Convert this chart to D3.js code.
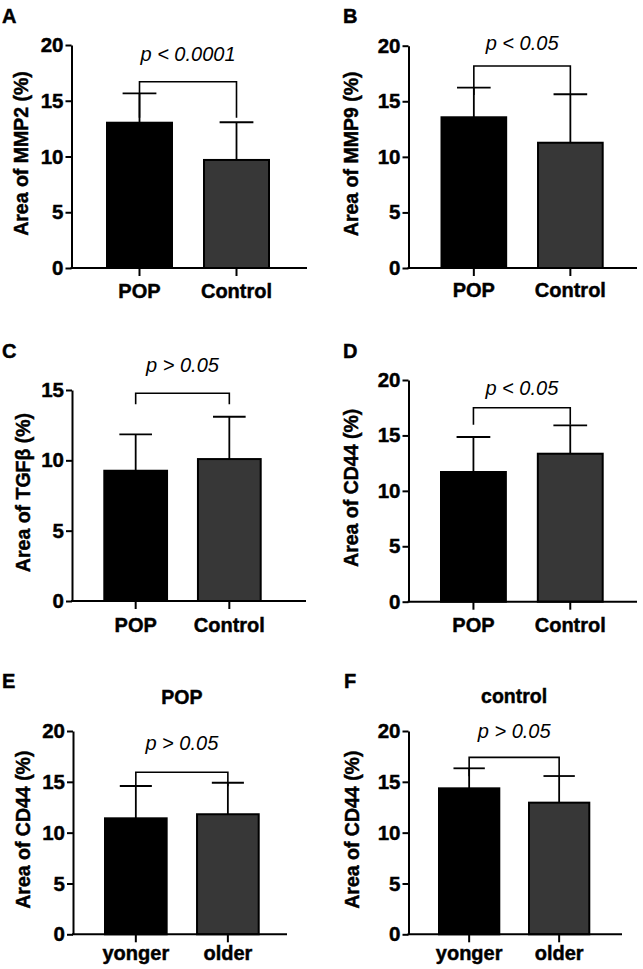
<!DOCTYPE html>
<html>
<head>
<meta charset="utf-8">
<script src="https://cdn.jsdelivr.net/npm/d3@7"></script>
<style>
  html, body { margin: 0; padding: 0; background: #fff; }
  svg { display: block; }
  text { font-family: "Liberation Sans", Arial, Helvetica, sans-serif; fill: #000; }
</style>
</head>
<body>
<svg id="chart" width="643" height="969"></svg>
<script>
// ---------------- DATA ----------------
const panelLetters = ["A", "B", "C", "D", "E", "F"];
const categoriesGroup = ["POP", "Control"];
const categoriesAge = ["yonger", "older"];
const panelCategories = [categoriesGroup, categoriesGroup, categoriesGroup, categoriesGroup, categoriesAge, categoriesAge];
const yTitles = ["Area of MMP2 (%)", "Area of MMP9 (%)", "Area of TGFβ (%)", "Area of CD44 (%)", "Area of CD44 (%)", "Area of CD44 (%)"];
const panelTitles = ["", "", "", "", "POP", "control"];
const meanValues = [
  [13.03, 9.69],
  [13.56, 11.27],
  [9.26, 10.09],
  [11.70, 13.35],
  [11.41, 11.81],
  [14.36, 12.95]
];
const errorValues = [
  [2.64, 3.38],
  [2.66, 4.36],
  [2.59, 3.01],
  [3.16, 2.56],
  [3.18, 3.10],
  [1.97, 2.62]
];
const yMaxValues = [20, 20, 15, 20, 20, 20];
const yTickValues = [
  [0, 5, 10, 15, 20],
  [0, 5, 10, 15, 20],
  [0, 5, 10, 15],
  [0, 5, 10, 15, 20],
  [0, 5, 10, 15, 20],
  [0, 5, 10, 15, 20]
];
const pLabels = ["p < 0.0001", "p < 0.05", "p > 0.05", "p < 0.05", "p > 0.05", "p > 0.05"];
const bracketLevels = [16.71, 18.17, 14.77, 17.5, 15.94, 17.41];
const barColors = ["#000000", "#373737"];

// ---------------- LAYOUT ----------------
const layout = [
  { axisX: 71.5, axisEnd: 307, yTop: 45,   y0: 268,   barL: 107,   barR: 269,   legLen: 36, pBase: 61,    labDy: 30,   titleX: 28,  letterX: 2,   letterY: 22.5 },
  { axisX: 408.5, axisEnd: 637, yTop: 45.7, y0: 268,   barL: 441.5, barR: 602.7, legLen: 29, pBase: 50,    labDy: 29,   titleX: 358, letterX: 343, letterY: 22.5 },
  { axisX: 72,   axisEnd: 306, yTop: 390,  y0: 601,   barL: 104.3, barR: 260.7, legLen: 11, pBase: 372.3, labDy: 30.5, titleX: 30,  letterX: 2,   letterY: 358 },
  { axisX: 408.5, axisEnd: 637, yTop: 380,  y0: 601.7, barL: 441,   barR: 602.7, legLen: 17, pBase: 395,   labDy: 30,   titleX: 358, letterX: 343, letterY: 358 },
  { axisX: 73,   axisEnd: 287, yTop: 731,  y0: 934.3, barL: 105,   barR: 258.7, legLen: 14, pBase: 750,   labDy: 25.5, titleX: 30,  letterX: 2,   letterY: 688, titleY: 704 },
  { axisX: 408.5, axisEnd: 622, yTop: 731,  y0: 934.3, barL: 439,   barR: 589.3, legLen: 19, pBase: 738.3, labDy: 25.5, titleX: 359, letterX: 344, letterY: 688, titleY: 703.3 }
];

const svg = d3.select("#chart");
const boldStroke = 0.45;

layout.forEach((L, i) => {
  const g = svg.append("g");
  const cats = panelCategories[i];

  const x = d3.scaleBand().domain(cats).range([L.barL, L.barR]).paddingInner(0.33).paddingOuter(0);
  const y = d3.scaleLinear().domain([0, yMaxValues[i]]).range([L.y0, L.yTop]);

  const data = cats.map((c, k) => ({ cat: c, mean: meanValues[i][k], err: errorValues[i][k], color: barColors[k] }));

  // bars
  g.selectAll("rect.bar").data(data).enter().append("rect")
    .attr("x", d => x(d.cat))
    .attr("y", d => y(d.mean))
    .attr("width", x.bandwidth())
    .attr("height", d => y(0) - y(d.mean))
    .attr("fill", d => d.color)
    .attr("stroke", "#000")
    .attr("stroke-width", 2);

  // error bars (upper)
  const capHalf = x.bandwidth() * 0.26;
  data.forEach(d => {
    const cx = x(d.cat) + x.bandwidth() / 2;
    g.append("line").attr("x1", cx).attr("x2", cx)
      .attr("y1", y(d.mean)).attr("y2", y(d.mean + d.err))
      .attr("stroke", "#000").attr("stroke-width", 1.8);
    g.append("line").attr("x1", cx - capHalf).attr("x2", cx + capHalf)
      .attr("y1", y(d.mean + d.err)).attr("y2", y(d.mean + d.err))
      .attr("stroke", "#000").attr("stroke-width", 1.8);
  });

  // y axis
  const yAxis = d3.axisLeft(y).tickValues(yTickValues[i]).tickSize(6).tickSizeOuter(0).tickPadding(2);
  const ya = g.append("g").attr("transform", `translate(${L.axisX},0)`).call(yAxis);
  ya.select(".domain").attr("stroke-width", 2).attr("stroke", "#000");
  ya.selectAll(".tick line").attr("stroke-width", 2).attr("stroke", "#000");
  ya.selectAll(".tick text").attr("font-size", 20.5).attr("font-weight", "bold")
    .attr("font-family", "'Liberation Sans', Arial, sans-serif").attr("fill", "#000")
    .attr("stroke", "#000").attr("stroke-width", boldStroke);

  // x axis
  const xAxis = d3.axisBottom(x).tickSize(8).tickSizeOuter(0).tickPadding(0);
  const xa = g.append("g").attr("transform", `translate(0,${L.y0})`).call(xAxis);
  xa.select(".domain").remove();
  xa.selectAll(".tick line").attr("stroke-width", 2).attr("stroke", "#000");
  xa.selectAll(".tick text").attr("font-size", 20).attr("font-weight", "bold")
    .attr("font-family", "'Liberation Sans', Arial, sans-serif").attr("fill", "#000")
    .attr("stroke", "#000").attr("stroke-width", boldStroke)
    .attr("dy", null).attr("y", L.labDy);
  g.append("line").attr("x1", L.axisX - 1).attr("x2", L.axisEnd)
    .attr("y1", L.y0).attr("y2", L.y0).attr("stroke", "#000").attr("stroke-width", 2);

  // y title
  g.append("text")
    .attr("transform", `translate(${L.titleX},${(L.y0 + L.yTop) / 2 - 3}) rotate(-90)`)
    .attr("text-anchor", "middle")
    .attr("font-size", 19.5).attr("font-weight", "bold")
    .attr("stroke", "#000").attr("stroke-width", boldStroke)
    .text(yTitles[i]);

  // bracket
  const c1 = x(cats[0]) + x.bandwidth() / 2;
  const c2 = x(cats[1]) + x.bandwidth() / 2;
  const by = y(bracketLevels[i]);
  g.append("path")
    .attr("d", `M${c1},${by + L.legLen}V${by}H${c2}V${by + L.legLen}`)
    .attr("fill", "none").attr("stroke", "#000").attr("stroke-width", 1.6);

  // p label
  g.append("text")
    .attr("x", (c1 + c2) / 2).attr("y", L.pBase)
    .attr("text-anchor", "middle")
    .attr("font-size", 20).attr("font-style", "italic")
    .text(pLabels[i]);

  // panel letter
  g.append("text")
    .attr("x", L.letterX).attr("y", L.letterY)
    .attr("font-size", 20).attr("font-weight", "bold")
    .attr("stroke", "#000").attr("stroke-width", boldStroke)
    .text(panelLetters[i]);

  // panel title
  if (panelTitles[i]) {
    g.append("text")
      .attr("x", (c1 + c2) / 2).attr("y", L.titleY)
      .attr("text-anchor", "middle")
      .attr("font-size", 19.5).attr("font-weight", "bold")
      .attr("stroke", "#000").attr("stroke-width", boldStroke)
      .text(panelTitles[i]);
  }
});
</script>
</body>
</html>
